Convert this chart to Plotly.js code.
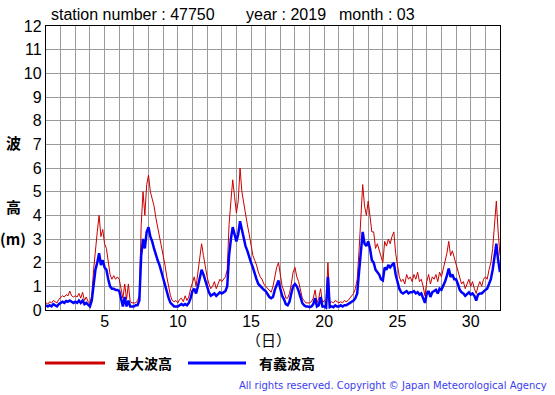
<!DOCTYPE html>
<html>
<head>
<meta charset="utf-8">
<script src="https://cdn.plot.ly/plotly-3.0.1.min.js"></script>
<style>html,body{margin:0;padding:0;background:#fff;}#chart{width:555px;height:395px;}</style>
</head>
<body>
<div id="chart"></div>
<script>
// 3-hourly samples starting 1 March 00:00 (day 1.0), 8 per day, last = 1 April 00:00
const sampleStepDays = 3 / 24;
const startDay = 1;

// 最大波高 (maximum wave height, m)
const maxWave = [
  0.30,0.25,0.35,0.30,0.40,0.35,0.30,0.45,
  0.55,0.60,0.55,0.65,0.60,0.80,0.60,0.55,
  0.60,0.55,0.70,0.50,0.75,0.40,0.55,0.35,
  0.30,0.60,1.70,2.70,3.30,4.00,3.10,3.40,
  2.80,2.60,2.00,1.50,1.30,1.45,1.30,1.40,
  1.30,0.90,0.50,1.10,0.45,1.10,0.35,0.30,
  0.30,0.30,0.40,0.60,3.60,5.00,4.00,5.30,
  5.70,5.00,4.70,4.40,3.90,3.50,3.20,2.70,
  2.30,1.90,1.40,0.90,0.60,0.40,0.35,0.40,
  0.30,0.45,0.50,0.35,0.60,0.40,0.55,0.90,
  1.20,1.40,1.00,1.60,2.20,2.80,2.30,1.80,
  1.40,1.10,0.90,1.00,1.20,0.90,1.10,1.30,
  1.20,1.30,1.40,1.70,3.60,4.60,5.50,4.80,
  4.10,4.60,6.00,5.00,4.50,3.90,3.60,3.20,
  2.80,2.30,2.10,1.90,1.60,1.40,1.30,1.10,
  1.00,0.90,0.80,0.75,1.00,1.40,1.80,2.00,
  1.50,1.00,0.80,0.50,0.50,0.70,1.10,1.60,
  1.80,1.40,1.20,0.80,0.50,0.40,0.30,0.30,
  0.30,0.35,0.50,0.85,0.30,0.50,0.90,0.30,
  0.40,0.30,2.00,0.30,0.35,0.30,0.40,0.35,
  0.30,0.35,0.30,0.40,0.35,0.40,0.50,0.60,
  0.70,0.90,1.30,2.50,3.80,5.30,4.40,4.00,
  4.60,4.00,3.30,3.30,2.60,2.80,2.50,2.20,
  2.00,2.90,2.70,3.00,2.80,3.10,3.30,2.40,
  1.80,1.40,1.20,1.30,1.10,1.50,1.30,1.40,
  1.20,1.50,1.30,1.60,1.20,1.30,1.00,0.60,
  1.20,1.50,1.10,1.40,1.30,1.50,1.20,1.60,
  1.40,1.70,2.00,2.40,2.90,2.30,2.50,2.20,
  2.00,1.70,1.30,1.10,1.20,0.90,1.10,1.30,
  1.00,1.20,0.90,0.70,1.00,1.20,1.00,1.30,
  1.40,1.30,1.70,2.00,2.60,3.60,4.60,3.30,
  2.30
];

// 有義波高 (significant wave height, m)
const sigWave = [
  0.20,0.15,0.20,0.15,0.25,0.20,0.15,0.25,
  0.30,0.35,0.30,0.38,0.35,0.40,0.35,0.30,
  0.35,0.30,0.40,0.30,0.40,0.25,0.30,0.20,
  0.15,0.40,1.20,1.70,2.00,2.40,1.90,2.10,
  1.80,1.70,1.30,1.00,0.90,0.90,0.85,0.85,
  0.80,0.50,0.15,0.55,0.15,0.40,0.15,0.15,
  0.15,0.20,0.20,0.40,2.30,3.00,2.60,3.30,
  3.50,3.10,2.90,2.60,2.30,2.10,1.90,1.60,
  1.40,1.10,0.80,0.50,0.30,0.20,0.15,0.15,
  0.15,0.20,0.25,0.20,0.25,0.20,0.30,0.50,
  0.80,0.90,0.70,1.00,1.40,1.70,1.50,1.20,
  1.00,0.75,0.60,0.65,0.70,0.60,0.70,0.75,
  0.70,0.75,0.80,1.00,2.30,3.00,3.50,3.20,
  2.90,3.20,3.75,3.40,3.00,2.70,2.50,2.20,
  2.00,1.80,1.50,1.30,1.10,1.00,0.90,0.85,
  0.80,0.65,0.55,0.50,0.55,0.85,1.10,1.25,
  0.90,0.60,0.45,0.25,0.20,0.35,0.70,1.00,
  1.10,1.00,0.80,0.50,0.30,0.20,0.15,0.15,
  0.12,0.15,0.25,0.50,0.15,0.20,0.55,0.15,
  0.15,0.10,1.40,0.12,0.15,0.12,0.20,0.15,
  0.15,0.20,0.15,0.20,0.20,0.25,0.30,0.35,
  0.40,0.50,0.70,1.60,2.50,3.30,2.80,2.70,
  2.90,2.60,2.10,2.00,1.70,1.60,1.50,1.30,
  1.25,1.80,1.70,1.90,1.80,1.90,2.00,1.50,
  1.20,0.90,0.75,0.70,0.75,0.80,0.70,0.75,
  0.75,0.80,0.70,0.75,0.65,0.70,0.50,0.30,
  0.70,0.80,0.55,0.75,0.80,0.85,0.70,0.90,
  0.85,1.00,1.20,1.45,1.75,1.40,1.50,1.30,
  1.30,1.10,0.85,0.75,0.70,0.60,0.70,0.75,
  0.65,0.70,0.60,0.40,0.65,0.70,0.70,0.80,
  0.85,0.90,1.10,1.30,1.70,2.30,2.80,2.10,
  1.60
];

const dayTicks = [1,2,3,4,5,6,7,8,9,10,11,12,13,14,15,16,17,18,19,20,21,22,23,24,25,26,27,28,29,30,31,32];
const dayLabels = ["","","","","5","","","","","10","","","","","15","","","","","20","","","","","25","","","","","30","",""];
const heightTicks = [0,1,2,3,4,5,6,7,8,9,10,11,12];

const titleParts = ["station number : 47750", "year : 2019", "month : 03"];
const legendNames = ["最大波高", "有義波高"];
const copyright = "All rights reserved. Copyright © Japan Meteorological Agency";

const times = maxWave.map((_, i) => startDay + i * sampleStepDays);

const RED = "#cc0000";
const BLUE = "#0000ff";
const W = 555, H = 395, L = 46, R = 55, T = 26, B = 85;
const pw = W - L - R, ph = H - T - B;
const px = x => (x - L) / pw;
const py = y => (H - B - y) / ph;

const traces = [
  {x: times, y: maxWave, type: "scatter", mode: "lines", name: legendNames[0],
   line: {color: RED, width: 1}, hoverinfo: "skip"},
  {x: times, y: sigWave, type: "scatter", mode: "lines", name: legendNames[1],
   line: {color: BLUE, width: 2.5}, hoverinfo: "skip"}
];

const tickFont = {family: "Liberation Sans, Arial, sans-serif", size: 16, color: "#000"};
const cjk = "Noto Sans CJK JP, sans-serif";

const layout = {
  width: W, height: H,
  margin: {l: L, r: R, t: T, b: B},
  paper_bgcolor: "#fff", plot_bgcolor: "#fff",
  showlegend: false,
  xaxis: {
    range: [1, 32], tickmode: "array", tickvals: dayTicks, ticktext: dayLabels,
    showgrid: true, gridcolor: "#9a9a9a", gridwidth: 1, zeroline: false,
    showline: true, mirror: true, linecolor: "#000", linewidth: 1.2,
    ticks: "", ticklabelstandoff: -3, tickfont: tickFont, fixedrange: true
  },
  yaxis: {
    range: [0, 12], tickmode: "array", tickvals: heightTicks,
    showgrid: true, gridcolor: "#9a9a9a", gridwidth: 1, zeroline: false,
    showline: true, mirror: true, linecolor: "#000", linewidth: 1.2,
    ticks: "", tickfont: tickFont, fixedrange: true
  },
  shapes: [
    {type: "line", xref: "paper", yref: "paper", x0: px(45), x1: px(105), y0: py(363), y1: py(363),
     line: {color: RED, width: 3}},
    {type: "line", xref: "paper", yref: "paper", x0: px(188), x1: px(246), y0: py(363), y1: py(363),
     line: {color: BLUE, width: 3}}
  ],
  annotations: [
    {text: titleParts[0], xref: "paper", yref: "paper", x: px(49), y: py(15), xanchor: "left", yanchor: "middle", showarrow: false, font: tickFont},
    {text: titleParts[1], xref: "paper", yref: "paper", x: px(244), y: py(15), xanchor: "left", yanchor: "middle", showarrow: false, font: tickFont},
    {text: titleParts[2], xref: "paper", yref: "paper", x: px(337), y: py(15), xanchor: "left", yanchor: "middle", showarrow: false, font: tickFont},
    {text: "<b>波</b>", xref: "paper", yref: "paper", x: px(13), y: py(142), xanchor: "center", yanchor: "middle", showarrow: false, font: {family: cjk, size: 15, color: "#000"}},
    {text: "<b>高</b>", xref: "paper", yref: "paper", x: px(13), y: py(207), xanchor: "center", yanchor: "middle", showarrow: false, font: {family: cjk, size: 15, color: "#000"}},
    {text: "<b>(m)</b>", xref: "paper", yref: "paper", x: px(13), y: py(238), xanchor: "center", yanchor: "middle", showarrow: false, font: {family: cjk, size: 15, color: "#000"}},
    {text: "（日）", xref: "paper", yref: "paper", x: px(268), y: py(339), xanchor: "center", yanchor: "middle", showarrow: false, font: {family: cjk, size: 15, color: "#000"}},
    {text: "<b>" + legendNames[0] + "</b>", xref: "paper", yref: "paper", x: px(114), y: py(363), xanchor: "left", yanchor: "middle", showarrow: false, font: {family: cjk, size: 14, color: "#000"}},
    {text: "<b>" + legendNames[1] + "</b>", xref: "paper", yref: "paper", x: px(257), y: py(363), xanchor: "left", yanchor: "middle", showarrow: false, font: {family: cjk, size: 14, color: "#000"}},
    {text: copyright, xref: "paper", yref: "paper", x: px(549), y: py(385), xanchor: "right", yanchor: "middle", showarrow: false, font: {family: "DejaVu Sans, sans-serif", size: 10, color: "#3c3cf0"}}
  ]
};

Plotly.newPlot("chart", traces, layout, {staticPlot: true, displayModeBar: false});
</script>
</body>
</html>
